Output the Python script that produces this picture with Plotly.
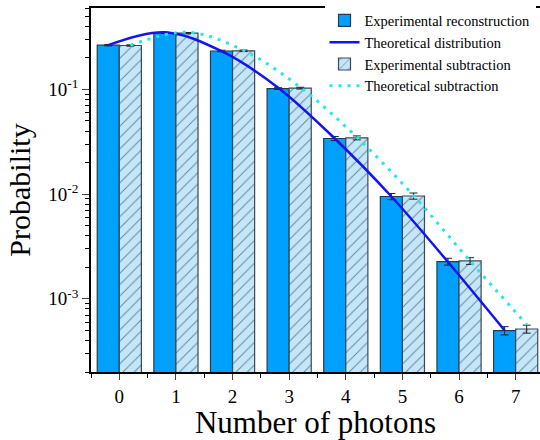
import plotly.graph_objects as go

photons = [0, 1, 2, 3, 4, 5, 6, 7]
exp_recon = [0.265, 0.348, 0.233, 0.102, 0.034, 0.0095, 0.00227, 0.000497]
exp_recon_err = [0.004, 0.005, 0.004, 0.002, 0.0015, 0.00065, 0.00017, 0.000045]
exp_sub = [0.263, 0.345, 0.234, 0.103, 0.0345, 0.0096, 0.0023, 0.000515]
exp_sub_err = [0.004, 0.005, 0.004, 0.002, 0.0015, 0.00065, 0.00017, 0.000045]
theo_dist = [0.265, 0.352, 0.232, 0.104, 0.034, 0.0095, 0.00225, 0.0005]
theo_sub = [0.264, 0.352, 0.236, 0.105, 0.035, 0.0097, 0.0023, 0.00057]
y_tickvals = [1e-3, 1e-2, 1e-1]
y_ticktext = ["10<sup>-3</sup>", "10<sup>-2</sup>", "10<sup>-1</sup>"]

BW = 0.39
FONT = "Liberation Serif, Times New Roman, serif"

minor_vals = [k * 10 ** e for e in (-4, -3, -2, -1) for k in range(2, 10)]

fig = go.Figure()
fig.add_trace(go.Bar(
    x=photons, y=exp_recon, width=BW, offset=-BW,
    name="Experimental reconstruction",
    marker=dict(color="#00A0FF", line=dict(color="#2B3A48", width=1.2)),
    error_y=dict(type="data", array=exp_recon_err, color="#222", thickness=1, width=4),
))
fig.add_trace(go.Scatter(
    x=[p - BW / 2 for p in photons], y=theo_dist, mode="lines",
    name="Theoretical distribution",
    line=dict(color="#1414EE", width=2.5, shape="spline", smoothing=1),
))
fig.add_trace(go.Bar(
    x=photons, y=exp_sub, width=BW, offset=0,
    name="Experimental subtraction",
    marker=dict(color="#C2E6FA", line=dict(color="#3A4A58", width=1.2),
                pattern=dict(shape="/", fgcolor="#222", bgcolor="#C2E6FA", size=8, solidity=0.12)),
    error_y=dict(type="data", array=exp_sub_err, color="#222", thickness=1, width=4),
))
fig.add_trace(go.Scatter(
    x=[p + BW / 2 for p in photons], y=theo_sub, mode="lines",
    name="Theoretical subtraction",
    line=dict(color="#22E8E8", width=3, dash="3px,6px", shape="spline", smoothing=1),
))

fig.update_layout(
    width=540, height=440,
    margin=dict(l=91, r=0, t=8, b=68),
    plot_bgcolor="white", paper_bgcolor="white",
    font=dict(family=FONT, color="black"),
    showlegend=True,
    legend=dict(x=0.99, xanchor="right", y=1.01, yanchor="top", bgcolor="white",
                font=dict(family=FONT, size=14.5), traceorder="normal",
                tracegroupgap=0, itemwidth=30),
    barmode="overlay",
)
fig.update_xaxes(
    range=[-0.5, 7.43], tickvals=photons, ticks="outside", ticklen=6, tickwidth=1,
    showline=True, linecolor="black", linewidth=1.5, mirror=True, showgrid=False,
    zeroline=False, tickfont=dict(size=19, family=FONT),
    minor=dict(tickvals=[p + 0.5 for p in range(-1, 8)], ticks="outside", ticklen=4, tickcolor="black"),
    title=dict(text="Number of photons", font=dict(size=31, family=FONT), standoff=8),
)
fig.update_yaxes(
    type="log", range=[-3.699, -0.2218], tickvals=y_tickvals, ticktext=y_ticktext,
    ticks="outside", ticklen=7, tickwidth=1,
    showline=True, linecolor="black", linewidth=1.5, showgrid=False,
    zeroline=False, tickfont=dict(size=19, family=FONT),
    minor=dict(tickvals=minor_vals, ticks="outside", ticklen=4, tickcolor="black"),
    title=dict(text="Probability", font=dict(size=30, family=FONT), standoff=9),
)
fig.write_html("out.html", config={"displayModeBar": False},
               post_script="document.body.style.margin='0px';")
